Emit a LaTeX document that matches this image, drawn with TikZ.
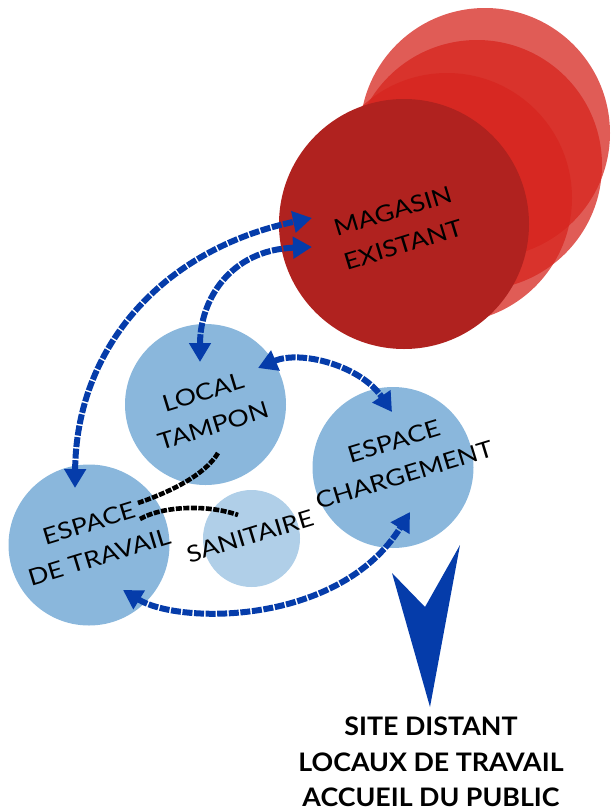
\documentclass[tikz,border=0pt]{standalone}
\usepackage{fontspec}
\setmainfont{Lato}[FakeStretch=1.16]
\newfontfamily\sitefont{Lato}[FakeStretch=1.05]
\usetikzlibrary{arrows.meta}
\definecolor{redback}{RGB}{214,37,30}
\definecolor{redfront}{RGB}{176,34,31}
\definecolor{bluebub}{RGB}{138,183,220}
\definecolor{bluelight}{RGB}{176,207,232}
\definecolor{arrowblue}{RGB}{5,60,170}
\tikzset{
  redbub/.style={circle, fill=redback, fill opacity=0.75, draw=none, minimum size=250pt, inner sep=0pt},
  frontbub/.style={circle, fill=redfront, draw=none, minimum size=250pt, inner sep=0pt},
  roombub/.style={circle, fill=bluebub, draw=none, minimum size=161pt, inner sep=0pt},
  smallbub/.style={circle, fill=bluelight, draw=none, minimum size=97pt, inner sep=0pt},
  lbl/.style={font=\fontsize{23}{35}\selectfont, align=center, rotate=17, inner sep=0pt, text=black},
  sitelbl/.style={font=\sitefont\fontsize{25.5}{30}\selectfont\bfseries, inner sep=0pt, anchor=base},
  flow/.style={draw=arrowblue, line width=6pt, dash pattern=on 10pt off 1.6pt,
     {Triangle[length=19pt,width=21pt]}-{Triangle[length=19pt,width=21pt]}},
  link/.style={draw=black, line width=4.6pt, dash pattern=on 6pt off 1.5pt}
}
\begin{document}
\begin{tikzpicture}[x=1pt,y=-1pt]
\useasboundingbox (0,0) rectangle (611,809);
% red circles
\node[redbub] (ra) at (485,133) {};
\node[redbub] (rb) at (477,165) {};
\node[redbub] (rc) at (447,198) {};
\node[frontbub] (mag) at (404,224) {};
% blue circles
\node[roombub] (lt) at (205.5,404.5) {};
\node[roombub] (et) at (89,545) {};
\node[smallbub] (san) at (251.5,538.5) {};
\node[roombub] (ec) at (393,467.5) {};
% labels
\node[lbl] (tmag) at (398,228) {MAGASIN\\EXISTANT};
\node[lbl] (tlt) at (208,409) {LOCAL\\TAMPON};
\node[lbl] (tet) at (94,540) {ESPACE\\DE TRAVAIL};
\node[lbl] (tsan) at (250,536) {SANITAIRE};
\node[lbl] (tec) at (399,458) {ESPACE\\CHARGEMENT};
% end points
\coordinate (et-a) at (75,488);
\coordinate (mag-a) at (312,218);
\coordinate (lt-a) at (200,362);
\coordinate (mag-b) at (312,247);
\coordinate (lt-b) at (258,368);
\coordinate (ec-a) at (392,412);
\coordinate (et-b) at (123,590);
\coordinate (ec-b) at (410,512);
\coordinate (lt-c) at (218,453);
\coordinate (et-c) at (138,503);
\coordinate (et-d) at (140,519);
\coordinate (san-a) at (238,515);
% blue flows
\draw[flow] (et-a) .. controls (76,350) and (160,250) .. (mag-a);
\draw[flow] (lt-a) .. controls (200,300) and (230,250) .. (mag-b);
\draw[flow] (lt-b) .. controls (300,350) and (360,365) .. (ec-a);
\draw[flow] (et-b) .. controls (180,625) and (340,625) .. (ec-b);
% black links
\draw[link] (lt-c) .. controls (205,475) and (170,492) .. (et-c);
\draw[link] (et-d) .. controls (165,505) and (210,505) .. (san-a);
% big chevron
\fill[arrowblue] (392,573) coordinate (cv1) -- (425,607) coordinate (cv2) -- (460,545) coordinate (cv3) -- (430,707) coordinate (cv4) -- cycle;
% site text
\node[sitelbl] (s1) at (431,735) {SITE DISTANT};
\node[sitelbl] (s2) at (431,771) {LOCAUX DE TRAVAIL};
\node[sitelbl] (s3) at (431,806) {ACCUEIL DU PUBLIC};
\end{tikzpicture}
\end{document}
